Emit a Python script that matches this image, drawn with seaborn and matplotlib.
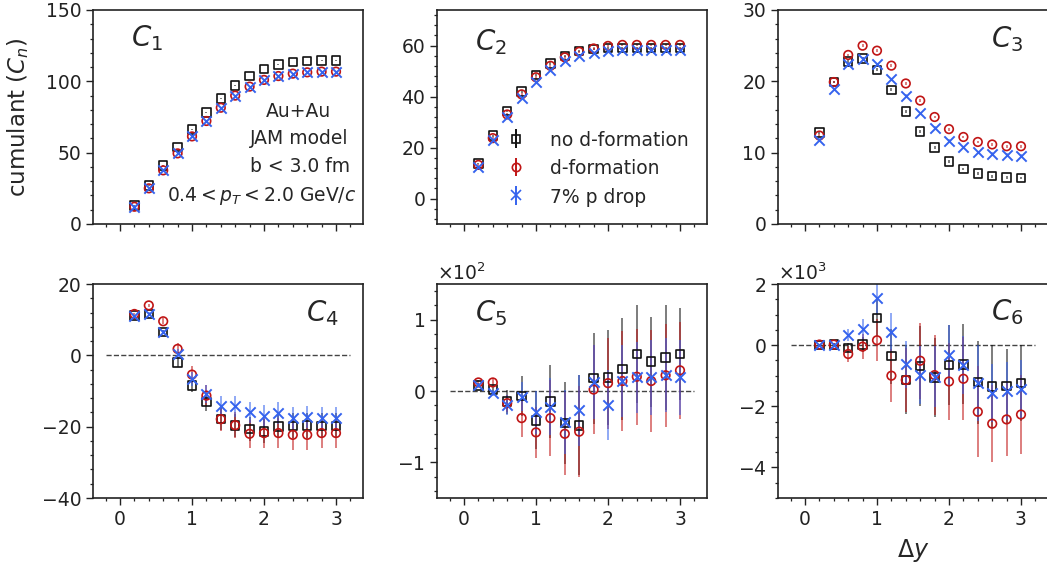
import numpy as np
import pandas as pd
import matplotlib
matplotlib.use("Agg")
import matplotlib.pyplot as plt
from matplotlib.ticker import AutoMinorLocator, MultipleLocator, ScalarFormatter
import seaborn as sns

# ---------------- data ----------------
dy = [0.2, 0.4, 0.6, 0.8, 1.0, 1.2, 1.4, 1.6, 1.8, 2.0, 2.2, 2.4, 2.6, 2.8, 3.0]

labels = ["no d-formation", "d-formation", "7% p drop"]

c1_nod = [12.9, 26.9, 40.9, 54.0, 66.4, 78.0, 88.0, 97.2, 103.7, 108.6, 111.7, 113.6, 114.3, 114.7, 114.7]
c1_d   = [12.1, 25.0, 37.6, 49.5, 61.4, 72.2, 81.5, 90.0, 96.3, 101.0, 103.7, 105.4, 106.3, 106.8, 106.8]
c1_p   = [12.1, 25.0, 37.6, 49.5, 61.4, 72.2, 81.5, 90.0, 96.3, 101.0, 103.7, 105.4, 106.3, 106.8, 106.8]
c1_err = [0.2, 0.3, 0.3, 0.3, 0.3, 0.3, 0.3, 0.3, 0.3, 0.3, 0.3, 0.3, 0.3, 0.3, 0.3]

c2_nod = [13.8, 24.7, 34.3, 42.1, 48.4, 52.9, 56.0, 57.9, 58.7, 59.0, 59.1, 59.1, 59.1, 59.1, 59.1]
c2_d   = [13.2, 23.7, 33.0, 40.9, 47.6, 52.1, 55.4, 57.6, 58.9, 59.9, 60.3, 60.3, 60.3, 60.3, 60.3]
c2_p   = [12.5, 23.0, 32.0, 39.5, 45.8, 50.4, 53.9, 56.0, 57.2, 57.9, 58.3, 58.3, 58.3, 58.3, 58.3]
c2_err = [0.3, 0.4, 0.4, 0.5, 0.5, 0.5, 0.5, 0.5, 0.5, 0.5, 0.5, 0.5, 0.5, 0.5, 0.5]

c3_nod = [12.8, 19.9, 22.8, 23.2, 21.6, 18.8, 15.8, 13.0, 10.7, 8.8, 7.7, 7.05, 6.7, 6.5, 6.45]
c3_d   = [12.4, 19.9, 23.7, 25.0, 24.3, 22.2, 19.7, 17.3, 15.0, 13.3, 12.2, 11.5, 11.15, 10.9, 10.9]
c3_p   = [11.8, 18.9, 22.4, 23.2, 22.4, 20.3, 18.0, 15.5, 13.5, 11.7, 10.8, 10.1, 9.85, 9.7, 9.6]
c3_err = [0.2, 0.2, 0.2, 0.2, 0.2, 0.2, 0.2, 0.2, 0.2, 0.2, 0.2, 0.2, 0.2, 0.2, 0.2]

c4_nod = [11.1, 11.6, 6.5, -2.0, -8.4, -13.1, -17.9, -19.6, -20.7, -21.3, -19.9, -19.8, -19.7, -19.8, -19.8]
c4_d   = [11.6, 14.0, 9.55, 1.8, -5.4, -11.3, -17.9, -19.6, -22.0, -21.8, -21.8, -22.3, -22.3, -21.8, -21.8]
c4_p   = [11.1, 11.7, 6.6, 0.4, -6.6, -10.9, -14.3, -14.3, -16.0, -17.0, -16.2, -17.6, -17.3, -17.6, -17.6]
c4_err_nod = [0.3, 0.4, 0.6, 1.2, 2.0, 2.6, 3.0, 3.2, 3.3, 3.4, 3.4, 3.5, 3.5, 3.5, 3.5]
c4_err_d   = [0.4, 0.5, 0.8, 1.6, 2.4, 3.0, 3.4, 3.7, 4.0, 4.1, 4.3, 4.3, 4.3, 4.3, 4.3]
c4_err_p   = [0.3, 0.4, 0.6, 1.3, 2.0, 2.5, 2.8, 2.9, 3.0, 3.0, 3.0, 3.0, 3.0, 3.0, 3.0]

c5_nod = [8, 2, -15, -7, -41, -15, -45, -48, 18, 19, 31, 52, 41, 47, 52]
c5_d   = [12, 12, -17, -38, -58, -38, -60, -57, 2, 11, 14, 20, 14, 22, 29]
c5_p   = [8, -3, -20, -8, -30, -22, -43, -27, 13, -20, 14, 19, 19, 23, 19]
c5_err_nod = [3, 4, 17, 28, 41, 51, 58, 70, 64, 66, 71, 69, 63, 73, 65]
c5_err_d   = [3, 5, 12, 27, 36, 53, 58, 64, 62, 64, 70, 67, 71, 72, 68]
c5_err_p   = [3, 4, 14, 20, 30, 40, 45, 50, 52, 49, 50, 50, 52, 52, 53]

c6_nod = [0, 30, -90, 30, 890, -360, -1140, -680, -1060, -650, -630, -1210, -1350, -1330, -1240]
c6_d   = [20, 20, -290, -50, 160, -1000, -1140, -510, -980, -1190, -1100, -2180, -2570, -2430, -2270]
c6_p   = [0, 0, 320, 520, 1540, 430, -630, -970, -1030, -320, -650, -1240, -1570, -1510, -1440]
c6_err_nod = [30, 40, 150, 250, 600, 900, 1100, 1300, 1300, 1300, 1310, 1360, 1350, 1220, 1240]
c6_err_d   = [30, 40, 250, 410, 680, 870, 1060, 1250, 1300, 1270, 1360, 1490, 1250, 1210, 1280]
c6_err_p   = [30, 40, 200, 340, 550, 620, 760, 950, 1000, 970, 950, 1250, 940, 950, 950]

x_ticks = [0, 1, 2, 3]

# ---------------- style ----------------
sns.set_style("ticks")
plt.rcParams.update({
    "font.family": ["DejaVu Sans"],
    "font.size": 13.5,
    "axes.linewidth": 1.2,
    "axes.edgecolor": "#222222",
    "xtick.major.size": 5, "ytick.major.size": 5,
    "xtick.minor.size": 2.5, "ytick.minor.size": 2.5,
    "xtick.major.width": 1.0, "ytick.major.width": 1.0,
    "xtick.minor.width": 0.9, "ytick.minor.width": 0.9,
    "xtick.labelsize": 13.5, "ytick.labelsize": 13.5,
    "xtick.color": "#222222", "ytick.color": "#222222",
    "mathtext.fontset": "dejavusans",
})

colors = ["#111111", "#c01515", "#3563ee"]
markers = ["s", "o", "X"]

W, H = 1047, 568
fig = plt.figure(figsize=(W / 100, H / 100), dpi=100)

col_left = [93, 437, 778]
row_top = [10, 284]
aw, ah = 270, 214

axes = []
for r in range(2):
    for c in range(3):
        l = col_left[c] / W
        b = 1 - (row_top[r] + ah) / H
        axes.append(fig.add_axes([l, b, aw / W, ah / H]))

panels = [
    ([c1_nod, c1_d, c1_p], [c1_err, c1_err, c1_err], (0, 150), 50, 5, r"$C_1$", (0.2, 0.87)),
    ([c2_nod, c2_d, c2_p], [c2_err, c2_err, c2_err], (-10, 74), 20, 5, r"$C_2$", (0.2, 0.85)),
    ([c3_nod, c3_d, c3_p], [c3_err, c3_err, c3_err], (0, 30), 10, 5, r"$C_3$", (0.85, 0.865)),
    ([c4_nod, c4_d, c4_p], [c4_err_nod, c4_err_d, c4_err_p], (-40, 20), 20, 5, r"$C_4$", (0.85, 0.865)),
    ([c5_nod, c5_d, c5_p], [c5_err_nod, c5_err_d, c5_err_p], (-150, 150), 100, 5, r"$C_5$", (0.2, 0.865)),
    ([c6_nod, c6_d, c6_p], [c6_err_nod, c6_err_d, c6_err_p], (-5000, 2000), 2000, 4, r"$C_6$", (0.85, 0.87)),
]

for i, (ax, (vals, errs, ylim, ystep, ndiv, title, tpos)) in enumerate(zip(axes, panels)):
    # error bars
    for y, e, col in zip(vals, errs, colors):
        ax.errorbar(dy, y, yerr=e, fmt="none", ecolor=col, elinewidth=1.4,
                    alpha=0.55, zorder=2)
    # markers via seaborn
    for y, col, lab, mk in zip(vals, colors, labels, markers):
        df = pd.DataFrame({"dy": dy, "val": y})
        if lab == "7% p drop":
            sns.scatterplot(data=df, x="dy", y="val", ax=ax, marker="x", s=55,
                            color=col, linewidth=1.4, zorder=4, legend=False)
        else:
            sns.scatterplot(data=df, x="dy", y="val", ax=ax, marker=mk, s=38,
                            facecolors="none", edgecolor=col, linewidth=1.2,
                            zorder=3, legend=False)
    ax.set_xlabel("")
    ax.set_ylabel("")
    ax.set_xlim(-0.375, 3.375)
    ax.set_ylim(*ylim)
    ax.set_xticks(x_ticks)
    ax.xaxis.set_minor_locator(AutoMinorLocator(5))
    ax.yaxis.set_major_locator(MultipleLocator(ystep))
    ax.yaxis.set_minor_locator(AutoMinorLocator(ndiv))
    if i < 3:
        ax.tick_params(axis="x", labelbottom=False)
    if i >= 3:
        ax.hlines(0, -0.2, 3.2, colors="#444444", linestyles="--", linewidth=1.0, zorder=1)
    if i >= 4:
        fmt = ScalarFormatter(useMathText=True)
        fmt.set_powerlimits((0, 0))
        ax.yaxis.set_major_formatter(fmt)
        ax.yaxis.get_offset_text().set_fontsize(13.5)
    ax.text(tpos[0], tpos[1], title, transform=ax.transAxes, fontsize=20,
            ha="center", va="center")

# annotation in C1 panel
ann = ["Au+Au", "JAM model", "b < 3.0 fm", r"$0.4 < p_T < 2.0$ GeV/$c$"]
ann_x = [298, 299, 300, 262]
ann_y = [112, 139, 167, 196]
for t, xx, yy in zip(ann, ann_x, ann_y):
    axes[0].text((xx - 93) / aw, (224 - yy) / ah, t, transform=axes[0].transAxes,
                 ha="center", va="center", fontsize=13.5)

# legend in C2 panel
handles = []
for col, lab, mk in zip(colors, labels, markers):
    m = "x" if lab == "7% p drop" else mk
    h = axes[1].errorbar([np.nan], [np.nan], yerr=[1], fmt=m, color=col,
                         mfc="none", mec=col, ms=7 if m == "x" else 6,
                         mew=1.2, elinewidth=1.4, ecolor=col, alpha=1.0)
    handles.append(h)
leg = axes[1].legend(handles, labels, loc="upper left",
                     bbox_to_anchor=((505 - 437) / aw, (224 - 131) / ah),
                     frameon=False, fontsize=13.5, handlelength=1.2,
                     handleheight=1.0,
                     handletextpad=1.2, borderaxespad=0, borderpad=0,
                     labelspacing=0.5)

fig.text(18 / W, 1 - 117 / H, r"cumulant ($C_n$)", rotation=90, ha="center",
         va="center", fontsize=16.5)
fig.text(913 / W, 1 - 550 / H, r"$\Delta y$", ha="center", va="center", fontsize=17)

fig.savefig("out.png", dpi=100)
